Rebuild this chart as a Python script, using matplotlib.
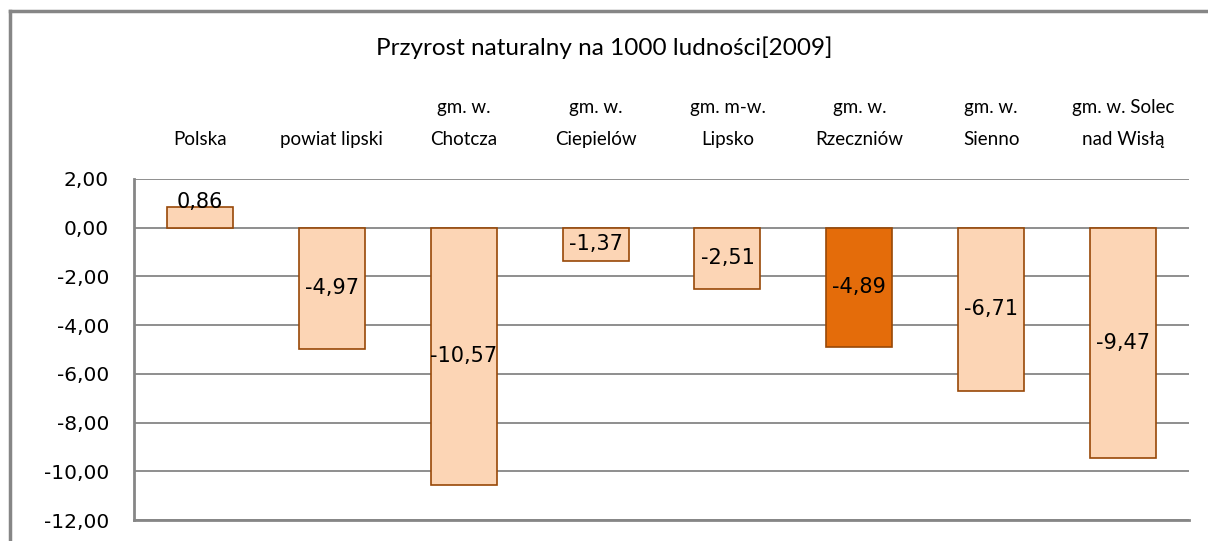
import matplotlib
matplotlib.use("Agg")
import matplotlib.pyplot as plt
from matplotlib.lines import Line2D

categories = ["Polska", "powiat lipski", "gm. w.\nChotcza", "gm. w.\nCiepielów",
              "gm. m-w.\nLipsko", "gm. w.\nRzeczniów", "gm. w.\nSienno", "gm. w. Solec\nnad Wisłą"]
values = [0.86, -4.97, -10.57, -1.37, -2.51, -4.89, -6.71, -9.47]
highlight = "gm. w.\nRzeczniów"
title = "Przyrost naturalny na 1000 ludności[2009]"
yticks = [2, 0, -2, -4, -6, -8, -10, -12]

light = "#FCD5B5"
dark = "#E46C0A"
edge = "#984807"
grid = "#868686"

fig = plt.figure(figsize=(12.08, 5.41), dpi=100)
ax = fig.add_axes([134/1208, 1-520/541, (1189-134)/1208, (520-179)/541])

x = list(range(len(categories)))
colors = [dark if c == highlight else light for c in categories]
ax.bar(x, values, width=0.5, color=colors, edgecolor=edge, linewidth=1.2, zorder=3)

ax.set_xlim(-0.5, len(categories) - 0.5)
ax.set_ylim(-12, 2)
ax.set_yticks(yticks)
ax.set_yticklabels([f"{t:.2f}".replace(".", ",") for t in yticks],
                   fontsize=14.5, family="DejaVu Sans")
ax.tick_params(axis="y", length=0, pad=18)
ax.yaxis.grid(True, color=grid, linewidth=1.3, zorder=0)
ax.set_axisbelow(True)

ax.xaxis.tick_top()
ax.set_xticks(x)
ax.set_xticklabels(categories, fontsize=13.5, family="Lato", linespacing=2.12)
ax.tick_params(axis="x", length=0, pad=22)

for s in ["top", "right"]:
    ax.spines[s].set_visible(False)
for s in ["left", "bottom"]:
    ax.spines[s].set_color(grid)
    ax.spines[s].set_linewidth(2)

for xi, v in zip(x, values):
    lab = f"{v:.2f}".replace(".", ",")
    if v >= 0:
        ax.annotate(lab, (xi, v), xytext=(0, -4), textcoords="offset points",
                    ha="center", va="bottom", fontsize=15, family="DejaVu Sans", zorder=5)
    else:
        ax.text(xi, v / 2, lab, ha="center", va="center", fontsize=15,
                family="DejaVu Sans", zorder=5)

fig.text(0.5, 1 - 48/541, title, ha="center", va="center", fontsize=17.5, family="Lato")

# outer chart frame
fig.add_artist(Line2D([10/1208, 1.0], [1 - 11/541, 1 - 11/541], color=grid, linewidth=2.5,
                      transform=fig.transFigure))
fig.add_artist(Line2D([10/1208, 10/1208], [1 - 11/541, 0.0], color=grid, linewidth=2.5,
                      transform=fig.transFigure))

fig.savefig("out.png", dpi=100)
